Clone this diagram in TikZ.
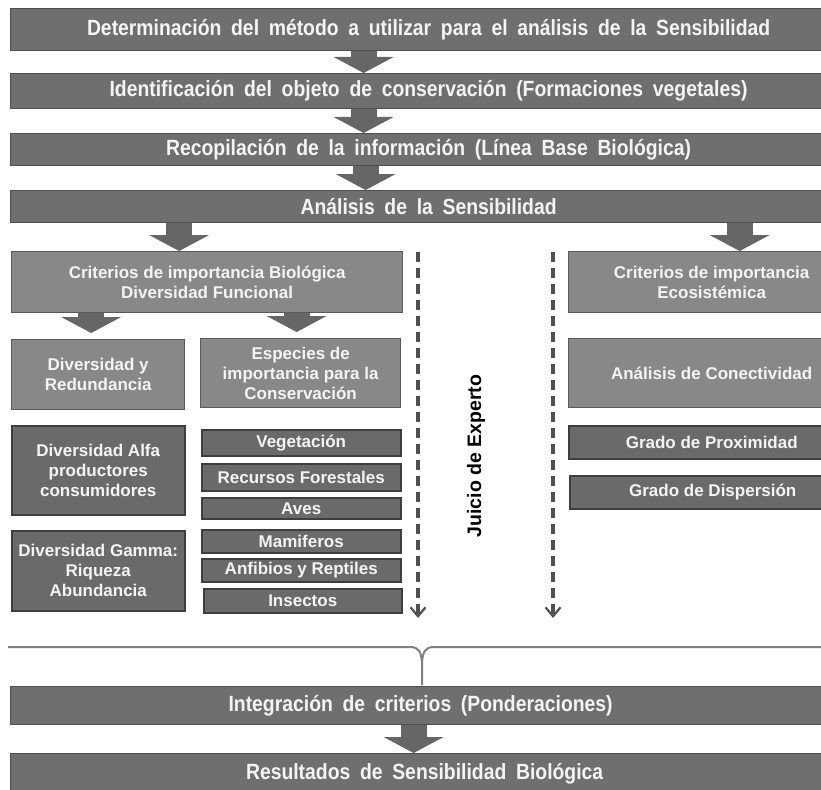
\documentclass[tikz,border=0pt]{standalone}
\usepackage{fontspec}
\setmainfont{Liberation Sans}
\newfontfamily\barfont{Liberation Sans}[FakeStretch=0.88,WordSpace=1.8]
\usetikzlibrary{arrows.meta}
\definecolor{barfill}{HTML}{6F6F6F}
\definecolor{barline}{HTML}{505050}
\definecolor{lightfill}{HTML}{888888}
\definecolor{lightline}{HTML}{5A5A5A}
\definecolor{darkfill}{HTML}{6A6A6A}
\definecolor{darkline}{HTML}{3E3E3E}
\definecolor{arrowfill}{HTML}{666666}
\definecolor{dashcol}{HTML}{505050}
\definecolor{bracecol}{HTML}{808080}
\definecolor{txt}{HTML}{F4F4F4}
\begin{document}
\begin{tikzpicture}[x=1pt,y=-1pt,
  bar/.style={rectangle, fill=barfill, draw=barline, line width=1.2pt, inner sep=0pt,
    anchor=north west, text=txt, font=\barfont\bfseries\fontsize{22}{26}\selectfont},
  lbox/.style={rectangle, fill=lightfill, draw=lightline, line width=1.3pt, inner sep=0pt,
    anchor=north west, text=txt, align=center, font=\bfseries\fontsize{17}{20}\selectfont},
  dbox/.style={rectangle, fill=darkfill, draw=darkline, line width=1.5pt, inner sep=0pt,
    anchor=north west, text=txt, align=center, font=\bfseries\fontsize{17}{20}\selectfont},
  bigarrow/.style={draw=arrowfill, line width=26pt,
    -{Triangle[length=16pt,width=60pt,line width=0pt]}},
  judgeline/.style={draw=dashcol, line width=3.5pt, dash pattern=on 10pt off 6pt,
    -{Straight Barb[length=9pt,width=15pt,line width=2.2pt]}},
]
\useasboundingbox (0,0) rectangle (821,789);
\fill[white] (0,0) rectangle (821,789);

% main bars
\node[bar, minimum width=836pt, minimum height=42pt] (b1) at (10,8) {Determinación del método a utilizar para el análisis de la Sensibilidad};
\node[bar, minimum width=836pt, minimum height=35pt] (b2) at (10,73) {Identificación del objeto de conservación (Formaciones vegetales)};
\node[bar, minimum width=836pt, minimum height=32pt] (b3) at (10,133) {Recopilación de la información (Línea Base Biológica)};
\node[bar, minimum width=836pt, minimum height=32pt] (b4) at (10,190) {Análisis de la Sensibilidad};

% criteria
\node[lbox, minimum width=391pt, minimum height=61pt] (critB) at (11,251) {Criterios de importancia Biológica\\Diversidad Funcional};
\node[lbox, minimum width=286pt, minimum height=61pt] (critE) at (568,251) {Criterios de importancia\\Ecosistémica};

\node[lbox, minimum width=173pt, minimum height=70pt] (divR) at (11,339) {Diversidad y\\Redundancia};
\node[lbox, minimum width=200pt, minimum height=69pt] (esp) at (200,338) {Especies de\\importancia para la\\Conservación};
\node[lbox, minimum width=286pt, minimum height=69pt] (conec) at (568,338) {Análisis de Conectividad};

\node[dbox, minimum width=173pt, minimum height=89pt] (alfa) at (11,425) {Diversidad Alfa\\productores\\consumidores};
\node[dbox, minimum width=173pt, minimum height=80pt] (gamma) at (11,530) {Diversidad Gamma:\\Riqueza\\Abundancia};

\node[dbox, minimum width=199pt, minimum height=26pt] (veg) at (201,429) {Vegetación};
\node[dbox, minimum width=199pt, minimum height=27pt] (rec) at (201,463) {Recursos Forestales};
\node[dbox, minimum width=199pt, minimum height=21pt] (aves) at (201,497) {Aves};
\node[dbox, minimum width=199pt, minimum height=23pt] (mam) at (201,529) {Mamiferos};
\node[dbox, minimum width=199pt, minimum height=23pt] (anf) at (201,558) {Anfibios y Reptiles};
\node[dbox, minimum width=198pt, minimum height=24pt] (ins) at (203,588) {Insectos};

\node[dbox, minimum width=286pt, minimum height=33pt] (prox) at (568,425) {Grado de Proximidad};
\node[dbox, minimum width=286pt, minimum height=33pt] (disp) at (569,475) {Grado de Dispersión};

\node[bar, minimum width=820pt, minimum height=38pt] (integ) at (10,686) {Integración de criterios (Ponderaciones)};
\node[bar, minimum width=828pt, minimum height=40pt] (res) at (10,753) {Resultados de Sensibilidad Biológica};

% expert judgement
\node[rotate=90, text=black, font=\bfseries\fontsize{19.5}{22}\selectfont, inner sep=0pt] (juicio) at (476,456) {Juicio de Experto};

% big arrows
\draw[bigarrow] ([xshift=-65pt]b1.south) -- ([xshift=-65pt]b2.north);
\draw[bigarrow] ([xshift=-65pt]b2.south) -- ([xshift=-65pt]b3.north);
\draw[bigarrow] ([xshift=-63pt]b3.south) -- ([xshift=-63pt]b4.north);
\draw[bigarrow] ([xshift=-28pt]critB.north |- b4.south) -- ([xshift=-28pt]critB.north);
\draw[bigarrow] ([xshift=28pt]critE.north |- b4.south) -- ([xshift=28pt]critE.north);
\draw[bigarrow, shorten >=6pt] ([xshift=-7pt]divR.north |- critB.south) -- ([xshift=-7pt]divR.north);
\draw[bigarrow, shorten >=6pt] ([xshift=-4pt]esp.north |- critB.south) -- ([xshift=-4pt]esp.north);
\draw[bigarrow] ([xshift=-7pt]integ.south) -- ([xshift=-7pt]integ.south |- res.north);

% dashed judgement lines
\coordinate (d1a) at (418,252);
\coordinate (d1b) at (418,618);
\coordinate (d2a) at (553,252);
\coordinate (d2b) at (553,618);
\draw[judgeline] (d1a) -- (d1b);
\draw[judgeline] (d2a) -- (d2b);

% brace
\coordinate (brL) at (8,647);
\coordinate (brR) at (830,647);
\coordinate (brM) at (422,662);
\coordinate (brT) at (422,685);
\draw[bracecol, line width=2pt] (brL) -- (410,647) .. controls (419,647) and (421,652) .. (brM) -- (brT);
\draw[bracecol, line width=2pt] (brR) -- (434,647) .. controls (425,647) and (423,652) .. (brM);
\end{tikzpicture}
\end{document}
